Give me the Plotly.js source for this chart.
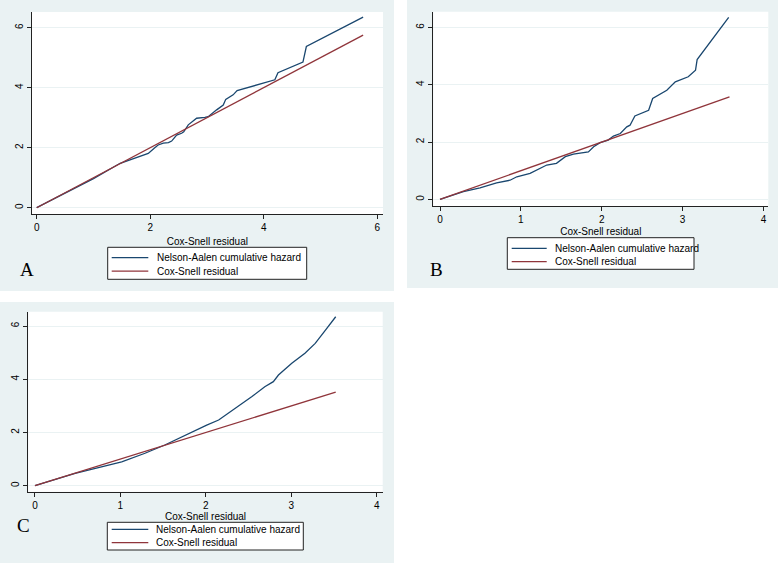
<!DOCTYPE html>
<html>
<head>
<meta charset="utf-8">
<script src="https://cdn.plot.ly/plotly-3.0.1.min.js"></script>
<style>html,body{margin:0;padding:0;background:#fff;}#chart{width:778px;height:563px;}</style>
</head>
<body>
<div id="chart"></div>
<script>
// Panel A
const aResidX = [0, 1.0, 1.47, 1.64, 1.82, 1.965, 2.08, 2.14, 2.23, 2.32, 2.377, 2.465, 2.553, 2.59, 2.67, 2.817, 2.963, 3.02, 3.17, 3.286, 3.33, 3.46, 3.53, 3.87, 4.195, 4.25, 4.69, 4.75, 5.75];
const aHazard  = [0, 0.97, 1.48, 1.59, 1.70, 1.81, 2.0, 2.09, 2.15, 2.17, 2.22, 2.42, 2.48, 2.53, 2.76, 2.98, 3.01, 3.03, 3.26, 3.42, 3.61, 3.76, 3.90, 4.09, 4.26, 4.50, 4.85, 5.37, 6.35];
const aRefX = [0, 5.75];
// Panel B
const bResidX = [0, 0.289, 0.495, 0.70, 0.866, 0.95, 1.114, 1.24, 1.32, 1.44, 1.55, 1.65, 1.835, 1.90, 1.98, 2.08, 2.145, 2.23, 2.31, 2.35, 2.41, 2.58, 2.63, 2.805, 2.91, 3.07, 3.16, 3.18, 3.57];
const bHazard  = [0, 0.27, 0.405, 0.58, 0.67, 0.79, 0.91, 1.08, 1.20, 1.26, 1.49, 1.58, 1.66, 1.84, 1.98, 2.07, 2.21, 2.30, 2.53, 2.59, 2.91, 3.11, 3.52, 3.81, 4.10, 4.28, 4.51, 4.88, 6.35];
const bRefX = [0, 3.58];
// Panel C
const cResidX = [0, 0.47, 1.015, 1.288, 1.52, 1.68, 2.01, 2.15, 2.38, 2.54, 2.69, 2.79, 2.85, 3.006, 3.16, 3.28, 3.40, 3.52];
const cHazard  = [0, 0.46, 0.90, 1.22, 1.53, 1.78, 2.28, 2.47, 2.97, 3.35, 3.72, 3.91, 4.16, 4.60, 4.98, 5.35, 5.85, 6.35];
const cRefX = [0, 3.52];

const xTicksA = [0, 2, 4, 6];
const xTicksBC = [0, 1, 2, 3, 4];
const yTicks = [0, 2, 4, 6];
const panelLabels = ['A', 'B', 'C'];
const xTitle = 'Cox-Snell residual';
const seriesNames = ['Nelson-Aalen cumulative hazard', 'Cox-Snell residual'];

const NAVY = '#1a476f', MAROON = '#90353b', BG = '#eaf2f3';
const W = 778, H = 563;
const px = v => v / W, py = v => 1 - v / H;

function pair(xs, ys, refx, xa, ya) {
  return [
    {x: xs, y: ys, xaxis: xa, yaxis: ya, type: 'scatter', mode: 'lines', name: seriesNames[0],
     line: {color: NAVY, width: 1.3}, showlegend: false},
    {x: refx, y: refx, xaxis: xa, yaxis: ya, type: 'scatter', mode: 'lines', name: seriesNames[1],
     line: {color: MAROON, width: 1.3}, showlegend: false}
  ];
}
const data = [
  ...pair(aResidX, aHazard, aRefX, 'x', 'y'),
  ...pair(bResidX, bHazard, bRefX, 'x2', 'y2'),
  ...pair(cResidX, cHazard, cRefX, 'x3', 'y3')
];

const font = {family: 'Liberation Sans, Arial, sans-serif', size: 10, color: '#000'};
function xax(dom, rng, ticks, anchor, standoff) {
  return {domain: dom, range: rng, anchor: anchor, tickvals: ticks, ticktext: ticks.map(String),
    showgrid: false, zeroline: false, showline: true, linecolor: '#222', linewidth: 1,
    ticks: 'outside', ticklen: 4, tickcolor: '#222', tickfont: font,
    title: {text: xTitle, font: font, standoff: standoff}, fixedrange: true};
}
function yax(dom, rng, anchor) {
  return {domain: dom, range: rng, anchor: anchor, tickvals: yTicks, ticktext: yTicks.map(String),
    showgrid: true, gridcolor: BG, gridwidth: 1, zeroline: false, showline: true, linecolor: '#222', linewidth: 1,
    ticks: 'outside', ticklen: 4, tickcolor: '#222', tickfont: font, tickangle: -90, fixedrange: true};
}

const shapes = [
  {type: 'rect', xref: 'paper', yref: 'paper', x0: px(0), x1: px(394), y0: py(291), y1: py(0), fillcolor: BG, line: {width: 0}, layer: 'below'},
  {type: 'rect', xref: 'paper', yref: 'paper', x0: px(407), x1: px(778), y0: py(288), y1: py(0), fillcolor: BG, line: {width: 0}, layer: 'below'},
  {type: 'rect', xref: 'paper', yref: 'paper', x0: px(0), x1: px(394), y0: py(563), y1: py(302), fillcolor: BG, line: {width: 0}, layer: 'below'},
  // white plot regions
  {type: 'rect', xref: 'paper', yref: 'paper', x0: px(31.7), x1: px(383), y0: py(214), y1: py(12), fillcolor: '#fff', line: {width: 0}, layer: 'below'},
  {type: 'rect', xref: 'paper', yref: 'paper', x0: px(433.3), x1: px(768.3), y0: py(206), y1: py(11.7), fillcolor: '#fff', line: {width: 0}, layer: 'below'},
  {type: 'rect', xref: 'paper', yref: 'paper', x0: px(28.3), x1: px(382.7), y0: py(491.7), y1: py(311.7), fillcolor: '#fff', line: {width: 0}, layer: 'below'}
];
const annotations = [];
const serif = {family: 'Liberation Serif, Times New Roman, serif', size: 19, color: '#000'};
[[18, 269], [436, 269], [14.5, 538]].forEach((p, i) => {
  annotations.push({text: panelLabels[i], x: px(p[0]), y: py(p[1]), xref: 'paper', yref: 'paper', showarrow: false, font: serif});
});
// legend boxes: [x0, x1, y0, y1, lineX0, lineX1, row1Y, row2Y, textX]
const legendBoxes = [
  [107.7, 306.7, 247.3, 279.3, 111.7, 148.3, 257.7, 271.2, 155],
  [507.3, 694, 237.7, 269.3, 511.7, 546.7, 248.3, 261.7, 552.7],
  [107.3, 303.3, 522.3, 550, 111.7, 148.3, 529.3, 542.7, 154.3]
];
legendBoxes.forEach(b => {
  shapes.push({type: 'rect', xref: 'paper', yref: 'paper', x0: px(b[0]), x1: px(b[1]), y0: py(b[3]), y1: py(b[2]),
    fillcolor: '#fff', line: {color: '#222', width: 1}});
  [NAVY, MAROON].forEach((c, k) => {
    const yy = k === 0 ? b[6] : b[7];
    shapes.push({type: 'line', xref: 'paper', yref: 'paper', x0: px(b[4]), x1: px(b[5]), y0: py(yy), y1: py(yy),
      line: {color: c, width: 1.3}});
    annotations.push({text: seriesNames[k], x: px(b[8]), y: py(yy), xref: 'paper', yref: 'paper', xanchor: 'left', yanchor: 'middle',
      showarrow: false, font: font});
  });
});

const layout = {
  width: W, height: H, margin: {l: 0, r: 0, t: 0, b: 0},
  paper_bgcolor: '#fff', plot_bgcolor: 'rgba(0,0,0,0)', font: font, showlegend: false,
  xaxis: xax([px(31.7), px(383)], [-0.088, 6.1], xTicksA, 'y', 5),
  yaxis: yax([py(214), py(12)], [-0.21, 6.52], 'x'),
  xaxis2: xax([px(433.3), px(768.3)], [-0.083, 4.06], xTicksBC, 'y2', 3),
  yaxis2: yax([py(206), py(11.7)], [-0.23, 6.55], 'x2'),
  xaxis3: xax([px(28.3), px(382.7)], [-0.078, 4.07], xTicksBC, 'y3', 0),
  yaxis3: yax([py(491.7), py(311.7)], [-0.225, 6.54], 'x3'),
  shapes: shapes,
  annotations: annotations
};

Plotly.newPlot('chart', data, layout, {displayModeBar: false, staticPlot: true});
</script>
</body>
</html>
